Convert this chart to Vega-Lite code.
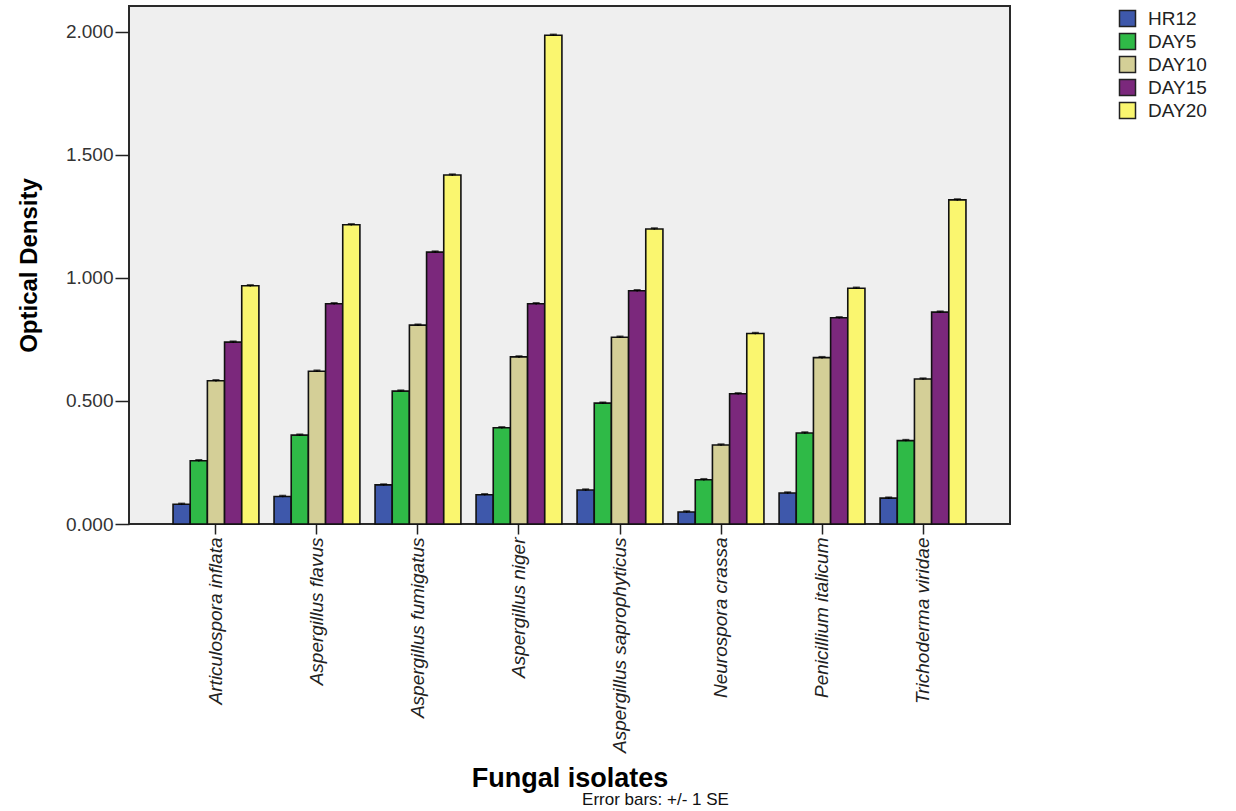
{
  "$schema": "https://vega.github.io/schema/vega-lite/v6.json",
  "width": 881,
  "height": 518,
  "autosize": {"type": "none"},
  "padding": {"left": 129, "top": 6, "right": 226, "bottom": 287},
  "background": "white",
  "config": {
    "font": "Liberation Sans",
    "view": {"fill": "#efefef", "stroke": "#2a2a2a", "strokeWidth": 2},
    "axis": {"grid": false}
  },
  "title": {"text": "Error bars: +/- 1 SE", "orient": "bottom", "anchor": "middle", "fontSize": 17, "fontWeight": "normal", "color": "#111", "dx": 86, "dy": 1, "offset": 0},
  "data": {
    "values": [
      {"isolate": "Articulospora inflata", "time": "HR12", "od": 0.080, "se": 0.003},
      {"isolate": "Articulospora inflata", "time": "DAY5", "od": 0.257, "se": 0.003},
      {"isolate": "Articulospora inflata", "time": "DAY10", "od": 0.582, "se": 0.003},
      {"isolate": "Articulospora inflata", "time": "DAY15", "od": 0.739, "se": 0.003},
      {"isolate": "Articulospora inflata", "time": "DAY20", "od": 0.968, "se": 0.003},
      {"isolate": "Aspergillus flavus", "time": "HR12", "od": 0.112, "se": 0.003},
      {"isolate": "Aspergillus flavus", "time": "DAY5", "od": 0.361, "se": 0.003},
      {"isolate": "Aspergillus flavus", "time": "DAY10", "od": 0.621, "se": 0.003},
      {"isolate": "Aspergillus flavus", "time": "DAY15", "od": 0.895, "se": 0.003},
      {"isolate": "Aspergillus flavus", "time": "DAY20", "od": 1.216, "se": 0.003},
      {"isolate": "Aspergillus fumigatus", "time": "HR12", "od": 0.159, "se": 0.003},
      {"isolate": "Aspergillus fumigatus", "time": "DAY5", "od": 0.540, "se": 0.003},
      {"isolate": "Aspergillus fumigatus", "time": "DAY10", "od": 0.808, "se": 0.003},
      {"isolate": "Aspergillus fumigatus", "time": "DAY15", "od": 1.105, "se": 0.003},
      {"isolate": "Aspergillus fumigatus", "time": "DAY20", "od": 1.418, "se": 0.003},
      {"isolate": "Aspergillus niger", "time": "HR12", "od": 0.119, "se": 0.003},
      {"isolate": "Aspergillus niger", "time": "DAY5", "od": 0.391, "se": 0.003},
      {"isolate": "Aspergillus niger", "time": "DAY10", "od": 0.679, "se": 0.003},
      {"isolate": "Aspergillus niger", "time": "DAY15", "od": 0.895, "se": 0.003},
      {"isolate": "Aspergillus niger", "time": "DAY20", "od": 1.986, "se": 0.003},
      {"isolate": "Aspergillus saprophyticus", "time": "HR12", "od": 0.138, "se": 0.003},
      {"isolate": "Aspergillus saprophyticus", "time": "DAY5", "od": 0.491, "se": 0.003},
      {"isolate": "Aspergillus saprophyticus", "time": "DAY10", "od": 0.759, "se": 0.003},
      {"isolate": "Aspergillus saprophyticus", "time": "DAY15", "od": 0.948, "se": 0.003},
      {"isolate": "Aspergillus saprophyticus", "time": "DAY20", "od": 1.199, "se": 0.003},
      {"isolate": "Neurospora crassa", "time": "HR12", "od": 0.049, "se": 0.003},
      {"isolate": "Neurospora crassa", "time": "DAY5", "od": 0.180, "se": 0.003},
      {"isolate": "Neurospora crassa", "time": "DAY10", "od": 0.321, "se": 0.003},
      {"isolate": "Neurospora crassa", "time": "DAY15", "od": 0.529, "se": 0.003},
      {"isolate": "Neurospora crassa", "time": "DAY20", "od": 0.774, "se": 0.003},
      {"isolate": "Penicillium italicum", "time": "HR12", "od": 0.126, "se": 0.003},
      {"isolate": "Penicillium italicum", "time": "DAY5", "od": 0.370, "se": 0.003},
      {"isolate": "Penicillium italicum", "time": "DAY10", "od": 0.676, "se": 0.003},
      {"isolate": "Penicillium italicum", "time": "DAY15", "od": 0.838, "se": 0.003},
      {"isolate": "Penicillium italicum", "time": "DAY20", "od": 0.958, "se": 0.003},
      {"isolate": "Trichoderma viridae", "time": "HR12", "od": 0.105, "se": 0.003},
      {"isolate": "Trichoderma viridae", "time": "DAY5", "od": 0.339, "se": 0.003},
      {"isolate": "Trichoderma viridae", "time": "DAY10", "od": 0.589, "se": 0.003},
      {"isolate": "Trichoderma viridae", "time": "DAY15", "od": 0.861, "se": 0.003},
      {"isolate": "Trichoderma viridae", "time": "DAY20", "od": 1.317, "se": 0.003}
    ]
  },
  "transform": [
    {"calculate": "datum.od + datum.se", "as": "hi"},
    {"calculate": "datum.od - datum.se", "as": "lo"}
  ],
  "encoding": {
    "x": {
      "field": "isolate", "type": "nominal", "sort": null,
      "scale": {"paddingInner": 0.15, "paddingOuter": 0.436},
      "axis": {
        "title": "Fungal isolates",
        "bandPosition": 0.5,
        "labelAngle": -90,
        "labelFontStyle": "italic",
        "labelFontSize": 19,
        "labelColor": "#222",
        "labelPadding": 3,
        "labelLimit": 0,
        "tickSize": 10,
        "tickColor": "#222",
        "tickWidth": 1.5,
        "domain": false,
        "titleFontSize": 27,
        "titleFontWeight": "bold",
        "titleColor": "#000",
        "titleY": 262,
        "titleBaseline": "alphabetic"
      }
    },
    "xOffset": {
      "field": "time", "type": "nominal",
      "sort": ["HR12", "DAY5", "DAY10", "DAY15", "DAY20"],
      "scale": {"paddingInner": 0, "paddingOuter": 0}
    }
  },
  "layer": [
    {
      "mark": {"type": "bar", "stroke": "#111", "strokeWidth": 1.6},
      "encoding": {
        "y": {
          "field": "od", "type": "quantitative",
          "scale": {"domain": [0, 2.105], "nice": false},
          "axis": {
            "title": "Optical Density",
            "format": ".3f",
            "values": [0, 0.5, 1, 1.5, 2],
            "domain": false,
            "tickSize": 14,
            "tickColor": "#222",
            "tickWidth": 1.5,
            "labelFontSize": 19,
            "labelColor": "#333",
            "labelPadding": 2,
            "titleFont": "Liberation Sans Narrow, Liberation Sans",
            "titleFontSize": 24,
            "titleFontWeight": "bold",
            "titleColor": "#000",
            "titleX": -88,
            "titleY": 259
          }
        },
        "color": {
          "field": "time", "type": "nominal",
          "sort": ["HR12", "DAY5", "DAY10", "DAY15", "DAY20"],
          "scale": {
            "domain": ["HR12", "DAY5", "DAY10", "DAY15", "DAY20"],
            "range": ["#3e58ab", "#2fba47", "#d4cf97", "#7b287c", "#faf66f"]
          },
          "legend": {
            "title": null,
            "orient": "none",
            "legendX": 989,
            "legendY": 3,
            "symbolType": "square",
            "symbolSize": 256,
            "symbolStrokeColor": "#222",
            "symbolStrokeWidth": 1.5,
            "labelFontSize": 19,
            "labelColor": "#222",
            "labelOffset": 11,
            "rowPadding": 0
          }
        }
      }
    },
    {
      "mark": {"type": "rule", "color": "#000", "strokeWidth": 1.5},
      "encoding": {
        "y": {"field": "lo", "type": "quantitative"},
        "y2": {"field": "hi"}
      }
    },
    {
      "mark": {"type": "tick", "color": "#000", "thickness": 2, "size": 7},
      "encoding": {
        "y": {"field": "hi", "type": "quantitative"}
      }
    }
  ]
}
